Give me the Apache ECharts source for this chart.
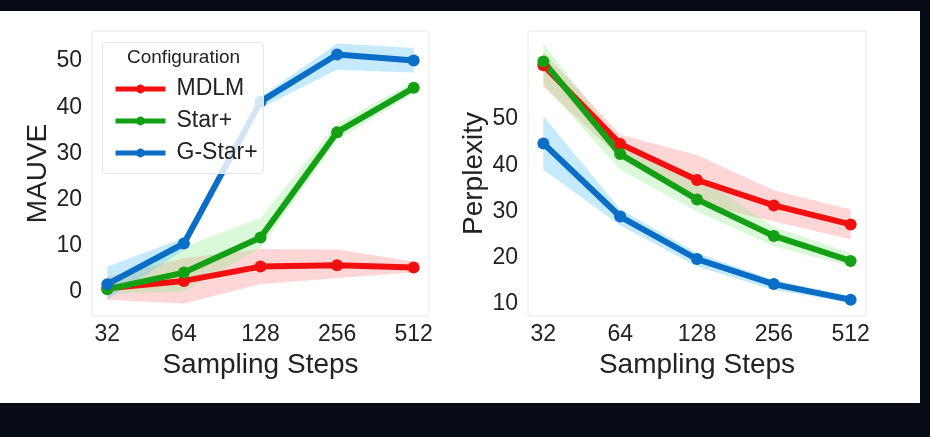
<!DOCTYPE html>
<html>
<head>
<meta charset="utf-8">
<script src="https://cdn.jsdelivr.net/npm/echarts@6/dist/echarts.min.js"></script>
<style>
  html, body { margin: 0; padding: 0; background: #060b16; }
  #paper { position: absolute; left: 0; top: 11px; width: 920px; height: 392px; background: #fff; }
  #chart { position: absolute; left: 0; top: 0; width: 930px; height: 437px; }
</style>
</head>
<body>
<div id="paper"></div>
<div id="chart"></div>
<script>
const steps = ["32", "64", "128", "256", "512"];

const mauveTicks = [0, 10, 20, 30, 40, 50];
const mauveMDLM = [0.8, 2.4, 5.5, 5.8, 5.3];
const mauveMDLMLow = [-1.7, -2.5, 1.7, 3.0, 4.2];
const mauveMDLMHigh = [3.3, 7.3, 9.3, 9.2, 6.6];
const mauveStar = [0.6, 4.2, 11.8, 34.6, 44.2];
const mauveStarLow = [-0.3, 0.0, 9.5, 32.9, 43.0];
const mauveStarHigh = [2.6, 9.8, 16.0, 36.5, 45.5];
const mauveGStar = [1.7, 10.5, 41.2, 51.4, 50.1];
const mauveGStarLow = [-1.7, 9.1, 39.8, 48.1, 47.5];
const mauveGStarHigh = [5.5, 11.7, 42.2, 53.8, 52.8];

const pplTicks = [10, 20, 30, 40, 50];
const pplMDLM = [61.6, 44.6, 36.8, 31.3, 27.2];
const pplMDLMLow = [57.0, 41.5, 31.8, 27.8, 24.0];
const pplMDLMHigh = [64.5, 46.6, 42.2, 34.6, 30.4];
const pplStar = [62.4, 42.4, 32.6, 24.7, 19.3];
const pplStarLow = [57.5, 39.0, 30.0, 22.5, 18.1];
const pplStarHigh = [66.3, 44.8, 37.9, 26.7, 21.0];
const pplGStar = [44.7, 28.9, 19.7, 14.3, 10.9];
const pplGStarLow = [39.0, 27.0, 18.1, 13.0, 10.3];
const pplGStarHigh = [50.6, 30.5, 21.0, 15.2, 11.6];

const colors = { MDLM: "#f20f0f", "Star+": "#14a014", "G-Star+": "#0b6ec6" };
const bandColors = {
  MDLM: "rgba(255,120,120,0.30)",
  "Star+": "rgba(130,235,130,0.30)",
  "G-Star+": "rgba(100,200,245,0.38)",
};
const font = "Liberation Sans, Arial, sans-serif";

const chart = echarts.init(document.getElementById("chart"));

function pairs(values) {
  return values.map((v, i) => [i, v]);
}

// shaded band drawn segment by segment between consecutive steps
function bandSeries(axis, name, low, high) {
  return {
    type: "custom", xAxisIndex: axis, yAxisIndex: axis, silent: true, z: 1,
    data: low.slice(0, -1).map((l, i) => [i, l, high[i]]),
    renderItem: (params, api) => {
      const i = params.dataIndex;
      const points = [
        api.coord([i, low[i]]),
        api.coord([i + 1, low[i + 1]]),
        api.coord([i + 1, high[i + 1]]),
        api.coord([i, high[i]]),
      ];
      return {
        type: "polygon",
        shape: { points },
        clipPath: { type: "rect", shape: params.coordSys },
        style: { fill: bandColors[name] },
      };
    },
  };
}

function lineSeries(axis, name, values) {
  return {
    name, type: "line", xAxisIndex: axis, yAxisIndex: axis,
    data: pairs(values), symbol: "circle", symbolSize: 12,
    lineStyle: { color: colors[name], width: 6 },
    itemStyle: { color: colors[name] }, z: 2,
  };
}

function xAxis(gridIndex) {
  return {
    type: "value", gridIndex, min: -0.2, max: 4.2,
    axisLine: { show: false }, axisTick: { show: false }, splitLine: { show: false },
    axisLabel: {
      customValues: [0, 1, 2, 3, 4], formatter: v => steps[Math.round(v)],
      fontSize: 23, color: "#222", fontFamily: font, margin: 7,
    },
    name: "Sampling Steps", nameLocation: "middle", nameGap: 27,
    nameTextStyle: { fontSize: 28, color: "#222", fontFamily: font },
  };
}

function yAxis(gridIndex, name, min, max, ticks, gap) {
  return {
    type: "value", gridIndex, min, max,
    axisLine: { show: false }, axisTick: { show: false }, splitLine: { show: false },
    axisLabel: {
      customValues: ticks, fontSize: 23, color: "#222", fontFamily: font, margin: 10,
    },
    name, nameLocation: "middle", nameGap: gap,
    nameTextStyle: { fontSize: 28, color: "#222", fontFamily: font },
  };
}

chart.setOption({
  animation: false,
  backgroundColor: "transparent",
  grid: [
    { left: 92, top: 31, width: 337, height: 285, show: true, borderColor: "#e8e8e8", borderWidth: 1 },
    { left: 528, top: 31, width: 338, height: 285, show: true, borderColor: "#e8e8e8", borderWidth: 1 },
  ],
  xAxis: [xAxis(0), xAxis(1)],
  yAxis: [
    yAxis(0, "MAUVE", -5.2, 56.5, mauveTicks, 39),
    yAxis(1, "Perplexity", 7.4, 69, pplTicks, 34),
  ],
  legend: {
    data: ["MDLM", "Star+", "G-Star+"],
    orient: "vertical", left: 108, top: 72, z: 12,
    itemWidth: 50, itemHeight: 11, itemGap: 8,
    lineStyle: { width: 5 },
    textStyle: { fontSize: 23, color: "#222", fontFamily: font, lineHeight: 24, padding: [0, 0, 0, 6] },
  },
  graphic: [
    {
      type: "rect", left: 102, top: 42, z: 10,
      shape: { width: 161, height: 131, r: 3 },
      style: { fill: "rgba(255,255,255,0.82)", stroke: "#e6e6e6", lineWidth: 1 },
    },
    {
      type: "text", left: 127, top: 48, z: 11,
      style: { text: "Configuration", fontSize: 19, fill: "#222", fontFamily: font },
    },
  ],
  series: [
    bandSeries(0, "MDLM", mauveMDLMLow, mauveMDLMHigh),
    bandSeries(0, "Star+", mauveStarLow, mauveStarHigh),
    bandSeries(0, "G-Star+", mauveGStarLow, mauveGStarHigh),
    bandSeries(1, "MDLM", pplMDLMLow, pplMDLMHigh),
    bandSeries(1, "Star+", pplStarLow, pplStarHigh),
    bandSeries(1, "G-Star+", pplGStarLow, pplGStarHigh),
    lineSeries(0, "MDLM", mauveMDLM),
    lineSeries(0, "Star+", mauveStar),
    lineSeries(0, "G-Star+", mauveGStar),
    lineSeries(1, "MDLM", pplMDLM),
    lineSeries(1, "Star+", pplStar),
    lineSeries(1, "G-Star+", pplGStar),
  ],
});
</script>
</body>
</html>
